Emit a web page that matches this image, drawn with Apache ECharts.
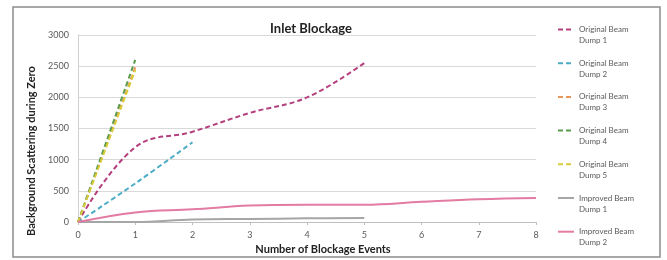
<!DOCTYPE html>
<html>
<head>
<meta charset="utf-8">
<script src="https://cdn.jsdelivr.net/npm/echarts@6/dist/echarts.min.js"></script>
<style>
  html, body { margin: 0; padding: 0; background: #fff; }
  #main { width: 667px; height: 260px; }
</style>
</head>
<body>
<div id="main"></div>
<script>
// blockage events vs background scattering
const seriesNames = [
  'Original Beam Dump 1',
  'Original Beam Dump 2',
  'Original Beam Dump 3',
  'Original Beam Dump 4',
  'Original Beam Dump 5',
  'Improved Beam Dump 1',
  'Improved Beam Dump 2'
];
const original1 = [[0, 0], [1, 1200], [2, 1450], [3, 1750], [4, 2000], [5, 2550]];
const original2 = [[0, 0], [1, 620], [2, 1280]];
const original3 = [[0, 0], [1, 2480]];
const original4 = [[0, 0], [1, 2600]];
const original5 = [[0, 0], [1, 2440]];
const improved1 = [[0, 0], [1, 0], [2, 40], [3, 50], [4, 60], [5, 65]];
const improved2 = [[0, 0], [1, 155], [2, 205], [3, 265], [4, 280], [5, 280], [6, 325], [7, 365], [8, 385]];

const colors = ['#b5407e', '#4bacc6', '#e8955a', '#5b9b4b', '#d8cc3a', '#a6a6a6', '#e37ba3'];
const allData = [original1, original2, original3, original4, original5, improved1, improved2];

const font = 'Lato, "Liberation Sans", sans-serif';
const myChart = echarts.init(document.getElementById('main'));

const series = allData.map((d, i) => ({
  name: seriesNames[i],
  type: 'line',
  data: d,
  smooth: 0.4,
  showSymbol: false,
  symbol: 'none',
  lineStyle: {
    color: colors[i],
    width: 2,
    type: i < 5 ? [5, 3] : 'solid'
  },
  itemStyle: { color: colors[i] },
  z: 2 + i
}));

const option = {
  animation: false,
  textStyle: { fontFamily: font },
  title: {
    text: 'Inlet Blockage',
    left: 306,
    top: 17,
    textAlign: 'center',
    textStyle: { fontSize: 13, fontWeight: 'bold', color: '#222', fontFamily: font }
  },
  legend: {
    orient: 'vertical',
    left: 557,
    top: 13,
    padding: 0,
    itemGap: 0.7,
    itemWidth: 16,
    itemHeight: 8,
    data: seriesNames,
    itemStyle: { opacity: 0 },
    // blank first line so the icon sits beside "Original Beam"
    formatter: name => '\n' + name.replace(' Dump', '\nDump'),
    textStyle: {
      fontSize: 8,
      color: '#595959',
      lineHeight: 11,
      fontFamily: font
    }
  },
  graphic: [{
    type: 'rect',
    shape: { x: 13, y: 7, width: 647, height: 250 },
    style: { fill: 'none', stroke: '#8c8c8c', lineWidth: 1.5 },
    silent: true
  }],
  grid: { left: 78, right: 131, top: 35, bottom: 32 },
  xAxis: {
    type: 'value',
    min: 0,
    max: 8,
    interval: 1,
    name: 'Number of Blockage Events',
    nameLocation: 'middle',
    nameGap: 15,
    nameTextStyle: { fontSize: 11, fontWeight: 'bold', color: '#222', padding: [0, 0, 0, 32], fontFamily: font },
    axisLine: { lineStyle: { color: '#bfbfbf' } },
    axisTick: { show: true, length: 3, lineStyle: { color: '#bfbfbf' } },
    axisLabel: { fontSize: 9, color: '#595959', margin: 8 },
    splitLine: { show: false }
  },
  yAxis: {
    type: 'value',
    min: 0,
    max: 3000,
    interval: 500,
    name: 'Background Scattering during Zero',
    nameLocation: 'middle',
    nameGap: 36,
    nameTextStyle: { fontSize: 11, fontWeight: 'bold', color: '#222', padding: [0, 45, 0, 0], fontFamily: font },
    axisLine: { show: true, lineStyle: { color: '#d0d0d0' } },
    axisTick: { show: false },
    axisLabel: { fontSize: 9, color: '#595959', margin: 9, formatter: v => String(v) },
    splitLine: { lineStyle: { color: '#d9d9d9' } }
  },
  series: series
};

option && myChart.setOption(option);
</script>
</body>
</html>
